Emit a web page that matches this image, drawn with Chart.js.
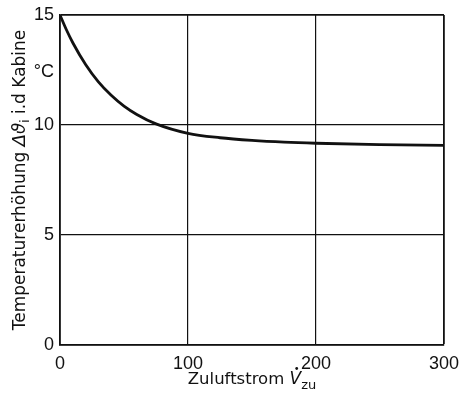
<!DOCTYPE html>
<html>
<head>
<meta charset="utf-8">
<script src="https://cdn.jsdelivr.net/npm/chart.js@4"></script>
<style>
  html, body { margin: 0; padding: 0; background: #fff; }
  #wrap { width: 464px; height: 395px; }
</style>
</head>
<body>
<div id="wrap"><canvas id="tempChart"></canvas></div>
<script>
// values
const airflow = [0, 5, 10, 20, 30, 40, 50, 60, 75, 100, 125, 150, 175, 200, 250, 300];
const tempRise = [15, 14.33, 13.74, 12.75, 11.96, 11.35, 10.86, 10.48, 10.05, 9.62, 9.42, 9.3, 9.22, 9.17, 9.11, 9.07];
const xTicks = [0, 100, 200, 300];
const yTicks = [0, 5, 10, 15];
const unitLabel = "°C";

const TICK_FONT = "'Liberation Sans', Arial, sans-serif";
const TITLE_FONT = "'DejaVu Sans', sans-serif";

// draws a row of text pieces (with subscripts) centered at 0,0
function drawPieces(ctx, pieces) {
  let total = 0;
  pieces.forEach(p => { ctx.font = p.font; p.w = ctx.measureText(p.text).width; total += p.w; });
  let x = -total / 2;
  pieces.forEach(p => {
    ctx.font = p.font;
    ctx.fillText(p.text, x, p.dy || 0);
    if (p.dot) {
      ctx.beginPath();
      ctx.arc(x + p.w * 0.62, -15.5, 1.4, 0, Math.PI * 2);
      ctx.fill();
    }
    x += p.w;
  });
}

const axisText = {
  id: "axisText",
  afterDraw(chart) {
    const ctx = chart.ctx;
    const { left, right, top, bottom } = chart.chartArea;
    ctx.save();
    ctx.fillStyle = "#111";
    ctx.textBaseline = "alphabetic";
    ctx.textAlign = "left";

    // y title, rotated
    ctx.save();
    ctx.translate(25, (top + bottom) / 2);
    ctx.rotate(-Math.PI / 2);
    drawPieces(ctx, [
      { text: "Temperaturerhöhung ", font: "17px " + TITLE_FONT },
      { text: "Δϑ", font: "italic 18px " + TITLE_FONT },
      { text: "i", font: "12px " + TITLE_FONT, dy: 4 },
      { text: " i.d Kabine", font: "17px " + TITLE_FONT }
    ]);
    ctx.restore();

    // x title
    ctx.save();
    ctx.translate((left + right) / 2, 384);
    drawPieces(ctx, [
      { text: "Zuluftstrom ", font: "16.5px " + TITLE_FONT },
      { text: "V", font: "italic 17px " + TITLE_FONT, dot: true },
      { text: "zu", font: "13px " + TITLE_FONT, dy: 5 }
    ]);
    ctx.restore();

    // unit next to y axis
    ctx.font = "18px " + TICK_FONT;
    ctx.textAlign = "right";
    ctx.textBaseline = "middle";
    ctx.fillText(unitLabel, left - 6, chart.scales.y.getPixelForValue(12.4));
    ctx.restore();
  }
};

const ctx = document.getElementById("tempChart").getContext("2d");
const tempChart = new Chart(ctx, {
  type: "line",
  data: {
    datasets: [{
      data: airflow.map((x, i) => ({ x: x, y: tempRise[i] })),
      borderColor: "#111",
      borderWidth: 2.8,
      pointRadius: 0,
      cubicInterpolationMode: "monotone",
      fill: false
    }]
  },
  options: {
    responsive: true,
    maintainAspectRatio: false,
    animation: false,
    layout: { padding: { top: 15, right: 20, left: 0, bottom: 0 } },
    plugins: { legend: { display: false }, tooltip: { enabled: false } },
    scales: {
      x: {
        type: "linear",
        min: 0,
        max: 300,
        afterBuildTicks: s => { s.ticks = xTicks.map(v => ({ value: v })); },
        afterFit: s => { s.height = 50; s.paddingRight = 0; s.paddingLeft = 0; },
        grid: {
          color: "#111",
          lineWidth: c => (c.tick && c.tick.value === 300 ? 1.8 : 1.2),
          drawTicks: false
        },
        border: { color: "#111", width: 1.8 },
        ticks: { color: "#111", padding: 8, font: { family: TICK_FONT, size: 18 } }
      },
      y: {
        min: 0,
        max: 15,
        afterBuildTicks: s => { s.ticks = yTicks.map(v => ({ value: v })); },
        afterFit: s => { s.width = 60; s.paddingTop = 0; s.paddingBottom = 0; },
        grid: {
          color: "#111",
          lineWidth: c => (c.tick && c.tick.value === 15 ? 1.8 : 1.2),
          drawTicks: false
        },
        border: { color: "#111", width: 1.8 },
        ticks: { color: "#111", padding: 6, font: { family: TICK_FONT, size: 18 } }
      }
    }
  },
  plugins: [axisText]
});
</script>
</body>
</html>
